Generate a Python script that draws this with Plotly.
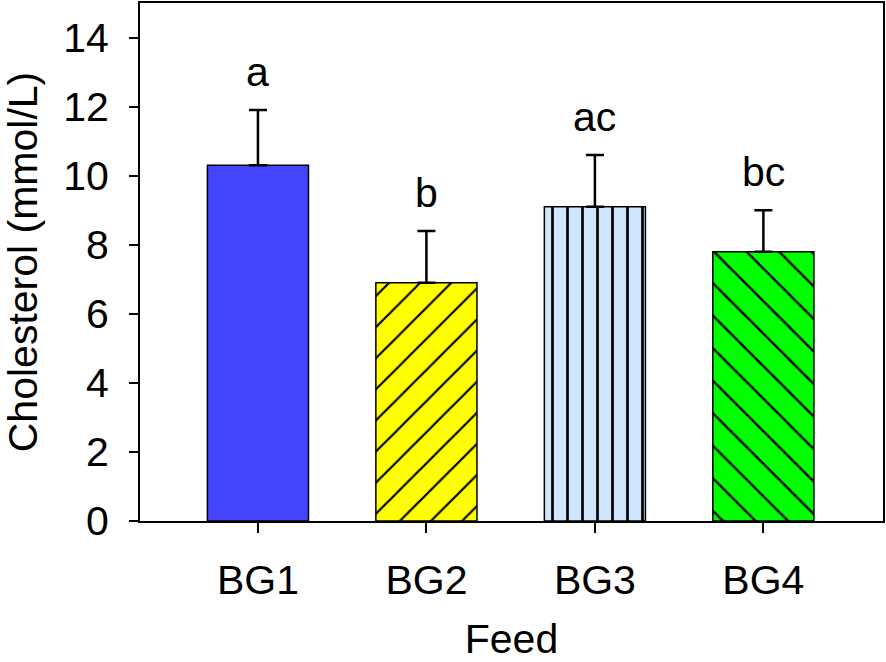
import plotly.graph_objects as go

categories = ["BG1", "BG2", "BG3", "BG4"]
means = [10.3, 6.9, 9.1, 7.8]
errors = [1.6, 1.5, 1.5, 1.2]
letters = ["a", "b", "ac", "bc"]
fills = ["#4444FF", "#FFFF00", "#CFE6FF", "#00FF00"]
hatches = ["", "/", "|", "\\"]
hatch_sizes = [10, 22, 15, 23]
hatch_solidity = [0.0, 0.1, 0.18, 0.1]
y_ticks = [0, 2, 4, 6, 8, 10, 12, 14]

FONT = "Liberation Sans, Arial, sans-serif"
FS = 41

fig = go.Figure()
for i, c in enumerate(categories):
    pattern = dict(shape=hatches[i], fgcolor="black", bgcolor=fills[i],
                   size=hatch_sizes[i], solidity=hatch_solidity[i],
                   fillmode="overlay", fgopacity=1)
    fig.add_trace(go.Bar(
        x=[c], y=[means[i]], width=0.6,
        marker=dict(color=fills[i], line=dict(color="black", width=1.5),
                    pattern=pattern),
        error_y=dict(type="data", symmetric=False, array=[errors[i]],
                     arrayminus=[0], color="black", thickness=2.5, width=9),
        showlegend=False, hoverinfo="skip",
    ))
    fig.add_annotation(x=c, y=means[i] + errors[i] + 1.1, text=letters[i],
                       showarrow=False, yanchor="middle",
                       font=dict(family=FONT, size=FS, color="black"))

fig.update_layout(
    width=886, height=662,
    margin=dict(l=140, r=3, t=3, b=141, autoexpand=False),
    paper_bgcolor="white", plot_bgcolor="white",
    font=dict(family=FONT, size=FS, color="black"),
    bargap=0.4,
)
fig.update_xaxes(
    range=[-0.70, 3.71], showline=True, linecolor="black", linewidth=2,
    mirror=True, ticks="outside", ticklen=10, tickwidth=2, tickcolor="black",
    ticklabelstandoff=12, automargin=False,
    title=dict(text="Feed", font=dict(size=FS), standoff=30),
    showgrid=False, zeroline=False,
)
fig.update_yaxes(
    range=[0, 15], tickvals=y_ticks, showline=True, linecolor="black",
    linewidth=2, mirror=True, ticks="outside", ticklen=9, tickwidth=2,
    tickcolor="black", ticklabelstandoff=12, automargin=False,
    title=dict(text="Cholesterol (mmol/L)", font=dict(size=FS), standoff=26),
    showgrid=False, zeroline=False,
)

fig.write_html("out.html", config={"displayModeBar": False},
               post_script="document.body.style.margin='0';")
